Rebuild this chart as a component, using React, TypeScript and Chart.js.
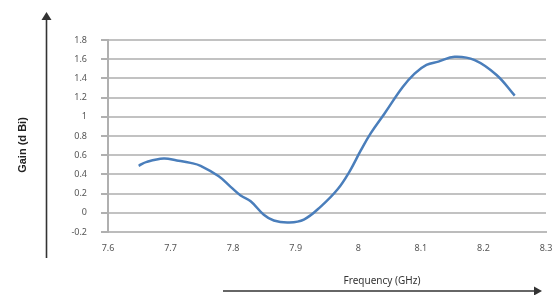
import React, { useEffect, useRef } from "react";
import { Chart, registerables } from "chart.js";

Chart.register(...registerables);

const frequencies = [7.649, 7.662, 7.689, 7.71, 7.732, 7.748, 7.777, 7.796, 7.812, 7.828, 7.849, 7.865, 7.889, 7.913, 7.94, 7.967, 7.986, 8.004, 8.02, 8.042, 8.071, 8.09, 8.109, 8.128, 8.154, 8.186, 8.221, 8.25];
const gains = [0.49, 0.53, 0.565, 0.545, 0.52, 0.49, 0.38, 0.27, 0.18, 0.12, -0.02, -0.08, -0.1, -0.07, 0.065, 0.245, 0.43, 0.65, 0.83, 1.035, 1.31, 1.45, 1.54, 1.575, 1.625, 1.59, 1.435, 1.22];
const yTitle = "Gain (d Bi)";
const xTitle = "Frequency (GHz)";

const fmt = (v: number | string) => String(Number(Number(v).toFixed(1)));

const decorPlugin = {
  id: "decor",
  afterDraw(chart: any) {
    const ctx = chart.ctx as CanvasRenderingContext2D;
    ctx.save();
    ctx.fillStyle = "#222";
    ctx.font = "bold 11px 'Liberation Sans Narrow', 'Liberation Sans', sans-serif";
    ctx.textAlign = "center";
    ctx.textBaseline = "middle";
    ctx.translate(23, 145);
    ctx.rotate(-Math.PI / 2);
    ctx.fillText(yTitle, 0, 0);
    ctx.restore();

    ctx.save();
    ctx.strokeStyle = "#333";
    ctx.fillStyle = "#333";
    ctx.lineWidth = 1.6;
    ctx.beginPath();
    ctx.moveTo(46.5, 258);
    ctx.lineTo(46.5, 16);
    ctx.stroke();
    ctx.beginPath();
    ctx.moveTo(46.5, 12);
    ctx.lineTo(41.5, 20);
    ctx.lineTo(51.5, 20);
    ctx.closePath();
    ctx.fill();
    ctx.beginPath();
    ctx.moveTo(223, 291);
    ctx.lineTo(537, 291);
    ctx.stroke();
    ctx.beginPath();
    ctx.moveTo(542, 291);
    ctx.lineTo(534, 286.5);
    ctx.lineTo(534, 295.5);
    ctx.closePath();
    ctx.fill();
    ctx.fillStyle = "#333";
    ctx.font = "10px 'Noto Sans', sans-serif";
    ctx.textAlign = "center";
    ctx.textBaseline = "middle";
    ctx.fillText(xTitle, 382, 281);
    ctx.restore();
  },
};

export default function App() {
  const ref = useRef<HTMLCanvasElement>(null);
  useEffect(() => {
    document.body.style.margin = "0";
    const chart = new Chart(ref.current!, {
      type: "line",
      data: {
        datasets: [
          {
            data: frequencies.map((f, i) => ({ x: f, y: gains[i] })),
            borderColor: "#4a7ebb",
            borderWidth: 2.5,
            pointRadius: 0,
            tension: 0.4,
            fill: false,
          },
        ],
      },
      options: {
        animation: false,
        responsive: false,
        layout: { padding: { left: 0, right: 3, top: 40, bottom: 0 } },
        plugins: { legend: { display: false }, tooltip: { enabled: false } },
        scales: {
          x: {
            type: "linear",
            min: 7.6,
            max: 8.3,
            ticks: {
              stepSize: 0.1,
              callback: (v: any) => fmt(v),
              color: "#555",
              font: { size: 9, family: "'Noto Sans', sans-serif" },
              padding: 11,
              maxRotation: 0,
              autoSkip: false,
            },
            grid: { display: false, drawTicks: false },
            border: { display: true, color: "#bcbcbc", width: 2 },
            afterFit: (s: any) => {
              s.height = 63;
              s.paddingRight = 7;
              s.paddingLeft = 0;
            },
          },
          y: {
            min: -0.2,
            max: 1.8,
            ticks: {
              stepSize: 0.2,
              callback: (v: any) => fmt(v),
              color: "#555",
              font: { size: 9, family: "'Noto Sans', sans-serif" },
              padding: 14,
            },
            grid: { display: true, color: "#c2c2c2", lineWidth: 2, drawTicks: true, tickLength: 7, tickColor: "#b0b0b0" },
            border: { display: true, color: "#b0b0b0", width: 2 },
            afterFit: (s: any) => {
              s.width = 108;
            },
          },
        },
      },
      plugins: [decorPlugin],
    });
    return () => chart.destroy();
  }, []);
  return (
    <div style={{ width: 553, height: 295 }}>
      <canvas ref={ref} width={553} height={295} />
    </div>
  );
}
